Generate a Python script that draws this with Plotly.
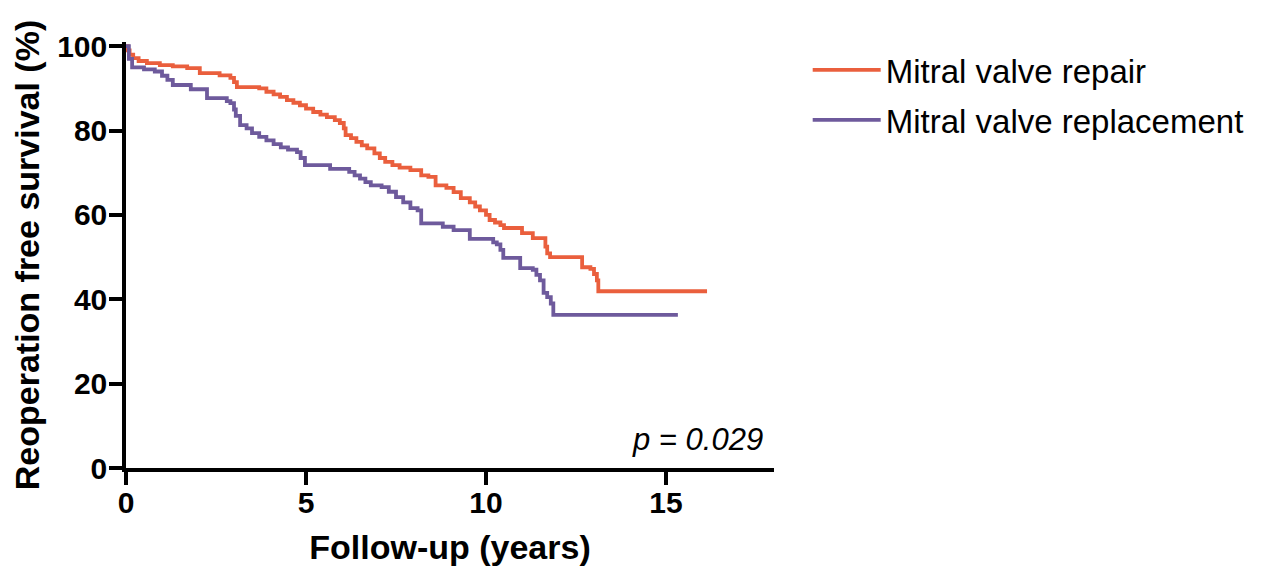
import plotly.graph_objects as go

# Kaplan-Meier step data (years, % free of reoperation)
repair_t = [0, 0.05, 0.1, 0.2, 0.35, 0.58, 0.94, 1.3, 1.7, 2.05, 2.6, 2.9, 3.0, 3.08,
            3.7, 3.9, 4.1, 4.28, 4.47, 4.65, 4.83, 5.0, 5.2, 5.4, 5.58, 5.8, 5.94,
            6.05, 6.1, 6.25, 6.4, 6.55, 6.7, 6.9, 7.05, 7.2, 7.4, 7.6, 7.9, 8.2,
            8.4, 8.6, 8.9, 9.1, 9.3, 9.55, 9.7, 9.83, 10.0, 10.1, 10.25, 10.4, 10.5,
            11.0, 11.3, 11.65, 11.7, 11.78, 12.67, 12.9, 13.0, 13.08, 13.12, 16.14]
repair_s = [100, 99, 98, 97.2, 96.5, 96, 95.5, 95.2, 94.8, 93.6, 93.1, 92.5, 91.5, 90.3,
            90, 89.2, 88.6, 88, 87.2, 86.6, 86, 85.2, 84.4, 83.8, 83.2, 82.5, 81.8,
            80.5, 78.9, 78.2, 77.3, 76.5, 75.8, 74.6, 73.5, 72.6, 71.8, 71.2, 70.6, 69.4,
            69, 67, 66.4, 65.4, 64, 63, 62, 61.1, 60, 58.8, 58.2, 57.6, 56.9,
            55.7, 54.5, 52.5, 50.9, 50, 47.6, 47.2, 46, 44.5, 41.9, 41.9]

replace_t = [0, 0.08, 0.17, 0.5, 0.8, 1.0, 1.15, 1.3, 1.8, 2.25, 2.8, 2.9, 3.0, 3.05,
             3.17, 3.35, 3.5, 3.7, 3.9, 4.1, 4.3, 4.5, 4.75, 4.85, 4.97, 5.67, 6.2,
             6.35, 6.5, 6.65, 6.8, 7.1, 7.3, 7.5, 7.7, 7.9, 8.1, 8.2, 8.8, 9.1, 9.55,
             10.2, 10.3, 10.4, 10.48, 10.95, 11.3, 11.4, 11.5, 11.6, 11.7, 11.8, 11.87, 15.33]
replace_s = [100, 97, 95, 94.5, 94, 93, 92, 90.8, 89.8, 87.7, 87, 86.5, 85, 83.5,
             81.3, 80.5, 79.4, 78.5, 77.7, 76.8, 76, 75.5, 74.9, 73.5, 71.8, 70.9, 70.2,
             69.4, 68.6, 67.8, 67, 66.6, 65.5, 64.2, 63, 61.6, 61.1, 58, 57.2, 56.4, 54.3,
             53.5, 53, 51.7, 49.8, 47.4, 47, 45.8, 44.5, 41.5, 40.5, 39, 36.3, 36.3]

series_names = ["Mitral valve repair", "Mitral valve replacement"]
series_colors = ["#EA5F3D", "#6E5A9C"]

x_ticks = [0, 5, 10, 15]
y_ticks = [0, 20, 40, 60, 80, 100]

FONT = "Arial, 'Liberation Sans', sans-serif"

fig = go.Figure()
for name, t, s, c, g in [(series_names[0], repair_t, repair_s, series_colors[0], "a"),
                         (series_names[1], replace_t, replace_s, series_colors[1], "b")]:
    fig.add_trace(go.Scatter(x=t, y=s, mode="lines", name=name, legendgroup=g,
                             line=dict(color=c, width=3.8, shape="hv"),
                             cliponaxis=False))

fig.update_layout(
    width=1271, height=572,
    margin=dict(l=118, r=505, t=34, b=112, autoexpand=False),
    paper_bgcolor="white", plot_bgcolor="white",
    font=dict(family=FONT, color="black"),
    showlegend=True,
    legend=dict(x=1.052, y=1.0, xanchor="left", yanchor="top",
                font=dict(size=33, family=FONT, color="black"),
                itemwidth=68, tracegroupgap=4, bgcolor="rgba(0,0,0,0)"),
)
fig.update_xaxes(
    range=[0, 18], tickvals=x_ticks, ticktext=[f"<b>{v}</b>" for v in x_ticks],
    showline=True, linecolor="black", linewidth=3.5,
    ticks="outside", ticklen=13, tickwidth=3.5, tickcolor="black",
    showgrid=False, zeroline=False, automargin=False,
    ticklabelstandoff=-8,
    tickfont=dict(size=30, family=FONT, color="black"),
    title=dict(text="<b>Follow-up (years)</b>", font=dict(size=34, family=FONT), standoff=18),
)
fig.update_yaxes(
    range=[0, 101], tickvals=y_ticks, ticktext=[f"<b>{v}</b>" for v in y_ticks],
    showline=True, linecolor="black", linewidth=3.5,
    ticks="outside", ticklen=13, tickwidth=3.5, tickcolor="black",
    showgrid=False, zeroline=False, automargin=False,
    ticklabelstandoff=-4,
    tickfont=dict(size=30, family=FONT, color="black"),
    title=dict(text="<b>Reoperation free survival (%)</b>", font=dict(size=34, family=FONT), standoff=8),
)
fig.add_annotation(x=0.986, y=0.02, xref="paper", yref="paper", xanchor="right", yanchor="bottom",
                   text="<i>p = 0.029</i>", showarrow=False,
                   font=dict(size=31, family=FONT, color="black"))

fig.write_html("out.html")
